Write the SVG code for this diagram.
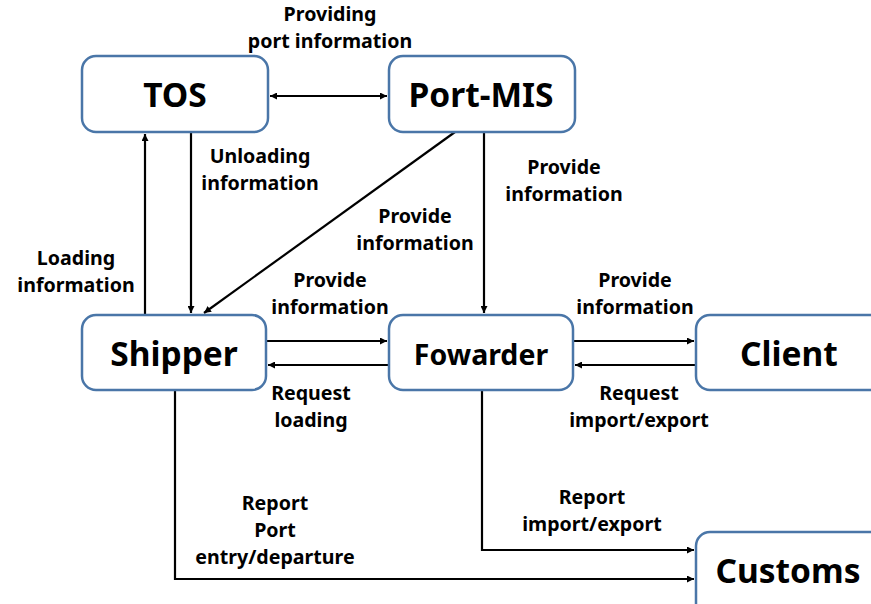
<svg xmlns="http://www.w3.org/2000/svg" width="871" height="604" viewBox="0 0 871 604">
  <style>
    .box { fill: #ffffff; stroke: #4a76a8; stroke-width: 2.5; }
    .name { font-family: "Noto Sans", "Open Sans", sans-serif; font-weight: bold; font-size: 33.5px; fill: #000; text-anchor: middle; }
    .lbl { font-family: "Noto Sans", "Open Sans", sans-serif; font-weight: bold; font-size: 19.6px; fill: #000; text-anchor: middle; }
    .wire { fill: none; stroke: #000; stroke-width: 2.2; }
  </style>
  <defs>
    <marker id="ah" viewBox="0 0 10 10" refX="10" refY="5" markerWidth="7" markerHeight="7" markerUnits="userSpaceOnUse" orient="auto-start-reverse">
      <path d="M0,0 L10,5 L0,10 z" fill="#000"/>
    </marker>
  </defs>
  <rect width="871" height="604" fill="#ffffff"/>

  <g id="connectors">
    <line class="wire" x1="270" y1="96" x2="387" y2="96" marker-start="url(#ah)" marker-end="url(#ah)"/>
    <line class="wire" x1="145" y1="315" x2="145" y2="134" marker-end="url(#ah)"/>
    <line class="wire" x1="191" y1="132" x2="191" y2="313" marker-end="url(#ah)"/>
    <line class="wire" x1="455" y1="132" x2="204" y2="313" marker-end="url(#ah)"/>
    <line class="wire" x1="484" y1="132" x2="484" y2="313" marker-end="url(#ah)"/>
    <line class="wire" x1="266" y1="341" x2="387" y2="341" marker-end="url(#ah)"/>
    <line class="wire" x1="389" y1="365" x2="268" y2="365" marker-end="url(#ah)"/>
    <line class="wire" x1="573" y1="341" x2="694" y2="341" marker-end="url(#ah)"/>
    <line class="wire" x1="696" y1="365" x2="575" y2="365" marker-end="url(#ah)"/>
    <polyline class="wire" points="175,390 175,579 694,579" marker-end="url(#ah)"/>
    <polyline class="wire" points="482,390 482,550 694,550" marker-end="url(#ah)"/>
  </g>

  <g id="labels">
    <text class="lbl" x="330" y="21">Providing</text>
    <text class="lbl" x="330" y="48">port information</text>
    <text class="lbl" x="260" y="163">Unloading</text>
    <text class="lbl" x="260" y="190">information</text>
    <text class="lbl" x="564" y="174">Provide</text>
    <text class="lbl" x="564" y="201">information</text>
    <text class="lbl" x="415" y="223">Provide</text>
    <text class="lbl" x="415" y="250">information</text>
    <text class="lbl" x="76" y="265">Loading</text>
    <text class="lbl" x="76" y="292">information</text>
    <text class="lbl" x="330" y="287">Provide</text>
    <text class="lbl" x="330" y="314">information</text>
    <text class="lbl" x="635" y="287">Provide</text>
    <text class="lbl" x="635" y="314">information</text>
    <text class="lbl" x="311" y="400">Request</text>
    <text class="lbl" x="311" y="427">loading</text>
    <text class="lbl" x="639" y="400">Request</text>
    <text class="lbl" x="639" y="427">import/export</text>
    <text class="lbl" x="592" y="504">Report</text>
    <text class="lbl" x="592" y="531">import/export</text>
    <text class="lbl" x="275" y="510">Report</text>
    <text class="lbl" x="275" y="537">Port</text>
    <text class="lbl" x="275" y="564">entry/departure</text>
  </g>

  <g id="tos">
    <rect class="box" x="82" y="56" width="186" height="76" rx="14"/>
    <text class="name" x="175" y="107">TOS</text>
  </g>
  <g id="port-mis">
    <rect class="box" x="389" y="56" width="186" height="76" rx="14"/>
    <text class="name" x="481" y="107">Port-MIS</text>
  </g>
  <g id="shipper">
    <rect class="box" x="82" y="315" width="184" height="75" rx="14"/>
    <text class="name" x="174" y="366">Shipper</text>
  </g>
  <g id="fowarder">
    <rect class="box" x="389" y="315" width="184" height="75" rx="14"/>
    <text class="name" x="481" y="365" style="font-size:28.5px">Fowarder</text>
  </g>
  <g id="client">
    <rect class="box" x="696" y="315" width="190" height="75" rx="14"/>
    <text class="name" x="789" y="366">Client</text>
  </g>
  <g id="customs">
    <rect class="box" x="696" y="532" width="190" height="90" rx="14"/>
    <text class="name" x="788" y="583">Customs</text>
  </g>
</svg>
